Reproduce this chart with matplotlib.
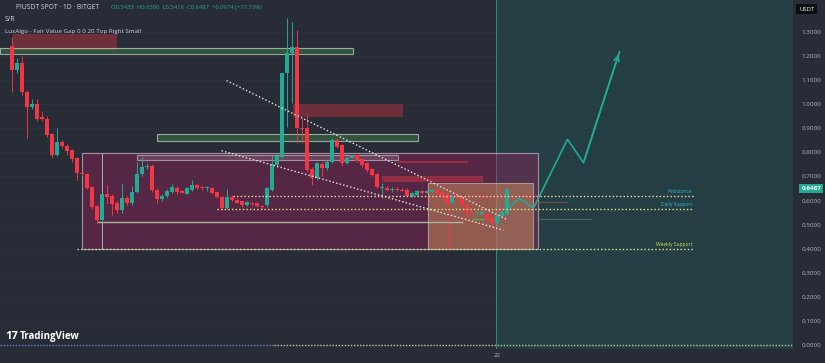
import matplotlib
matplotlib.use("Agg")
import matplotlib.pyplot as plt
from matplotlib.patches import Rectangle

plt.rcParams["font.family"] = ["Open Sans", "DejaVu Sans"]

# ---- candles (bar index 0..99) ----
opens = [1.24, 1.14, 1.17, 1.05, 0.99, 1.00, 0.945, 0.94, 0.875, 0.79,
         0.845, 0.826, 0.81, 0.775, 0.714, 0.709, 0.657, 0.577, 0.52, 0.627,
         0.62, 0.588, 0.561, 0.609, 0.588, 0.637, 0.710, 0.74, 0.743, 0.643,
         0.605, 0.617, 0.636, 0.652, 0.640, 0.629, 0.643, 0.666, 0.654, 0.652,
         0.652, 0.636, 0.615, 0.571, 0.615, 0.604, 0.597, 0.581, 0.587, 0.588,
         0.575, 0.58, 0.644, 0.748, 0.782, 1.128, 1.211, 1.239, 0.900, 0.900,
         0.729, 0.692, 0.751, 0.733, 0.761, 0.851, 0.830, 0.754, 0.778, 0.787,
         0.771, 0.754, 0.729, 0.712, 0.651, 0.651, 0.643, 0.646, 0.645, 0.644,
         0.619, 0.623, 0.640, 0.633, 0.637, 0.644, 0.637, 0.623, 0.592, 0.623,
         0.609, 0.581, 0.554, 0.547, 0.545, 0.545, 0.53, 0.505, 0.535, 0.5433]
highs = [1.28, 1.19, 1.20, 1.06, 1.02, 1.02, 0.97, 0.95, 0.88, 0.90,
         0.85, 0.835, 0.815, 0.78, 0.72, 0.715, 0.66, 0.58, 0.63, 0.664,
         0.625, 0.60, 0.669, 0.62, 0.66, 0.761, 0.782, 0.755, 0.75, 0.65,
         0.625, 0.648, 0.669, 0.66, 0.645, 0.657, 0.684, 0.67, 0.66, 0.66,
         0.655, 0.64, 0.62, 0.649, 0.622, 0.61, 0.60, 0.60, 0.593, 0.592,
         0.58, 0.655, 0.789, 0.797, 1.13, 1.36, 1.343, 1.308, 0.941, 0.955,
         0.74, 0.76, 0.76, 0.77, 0.86, 0.86, 0.835, 0.785, 0.79, 0.79,
         0.775, 0.76, 0.735, 0.715, 0.672, 0.66, 0.655, 0.655, 0.65, 0.65,
         0.635, 0.645, 0.645, 0.645, 0.648, 0.648, 0.64, 0.627, 0.625, 0.627,
         0.612, 0.585, 0.56, 0.555, 0.558, 0.55, 0.535, 0.54, 0.555, 0.6506]
lows = [1.05, 1.13, 1.04, 0.86, 0.98, 0.93, 0.93, 0.864, 0.775, 0.785,
        0.82, 0.79, 0.76, 0.685, 0.70, 0.648, 0.565, 0.505, 0.51, 0.59,
        0.54, 0.547, 0.547, 0.58, 0.58, 0.63, 0.70, 0.73, 0.635, 0.588,
        0.60, 0.61, 0.63, 0.625, 0.63, 0.625, 0.64, 0.648, 0.645, 0.64,
        0.628, 0.61, 0.56, 0.565, 0.60, 0.588, 0.575, 0.578, 0.578, 0.574,
        0.566, 0.575, 0.64, 0.74, 0.775, 0.907, 1.004, 0.837, 0.837, 0.720,
        0.665, 0.685, 0.70, 0.725, 0.755, 0.82, 0.745, 0.75, 0.775, 0.76,
        0.74, 0.72, 0.70, 0.65, 0.610, 0.64, 0.635, 0.64, 0.638, 0.615,
        0.615, 0.62, 0.628, 0.63, 0.635, 0.628, 0.615, 0.585, 0.585, 0.605,
        0.578, 0.526, 0.54, 0.54, 0.54, 0.515, 0.50, 0.50, 0.53, 0.5416]
closes = [1.14, 1.17, 1.05, 0.99, 1.00, 0.94, 0.94, 0.872, 0.79, 0.845,
          0.825, 0.806, 0.772, 0.716, 0.710, 0.653, 0.574, 0.519, 0.627, 0.616,
          0.585, 0.56, 0.609, 0.588, 0.637, 0.710, 0.740, 0.744, 0.643, 0.605,
          0.618, 0.640, 0.657, 0.636, 0.632, 0.650, 0.666, 0.652, 0.652, 0.654,
          0.632, 0.613, 0.567, 0.615, 0.602, 0.591, 0.581, 0.595, 0.585, 0.577,
          0.572, 0.651, 0.750, 0.786, 1.128, 1.211, 1.239, 0.900, 0.898, 0.727,
          0.692, 0.754, 0.733, 0.761, 0.851, 0.824, 0.754, 0.778, 0.787, 0.766,
          0.748, 0.727, 0.706, 0.657, 0.653, 0.644, 0.647, 0.645, 0.641, 0.619,
          0.630, 0.640, 0.630, 0.640, 0.643, 0.630, 0.619, 0.588, 0.612, 0.609,
          0.581, 0.547, 0.547, 0.549, 0.552, 0.518, 0.506, 0.535, 0.551, 0.6487]

# ---- drawings (x in bar index, y in price) ----
zones = [  # x0, x1, y0, y1, face, alpha, edge
    (0.2, 21.0, 1.225, 1.290, "#f23645", 0.35, "none"),
    (-2.4, 68.2, 1.207, 1.232, "#4caf50", 0.30, "#b8c4b8"),
    (56.2, 78.2, 0.948, 1.000, "#f23645", 0.35, "none"),
    (29.0, 81.2, 0.848, 0.875, "#4caf50", 0.30, "#b8c4b8"),
    (14.0, 105.2, 0.400, 0.798, "#a0205e", 0.38, "#b9a9b9"),
    (25.0, 77.2, 0.767, 0.789, "#9a8a90", 0.30, "#b9a9b9"),
    (77.2, 91.2, 0.757, 0.765, "#f23645", 0.45, "none"),
    (74.0, 94.2, 0.678, 0.702, "#f23645", 0.40, "none"),
    (83.2, 104.2, 0.400, 0.671, "#e39a5f", 0.45, "#b9a9a0"),
]
level_names = ["Resistance", "Daily Support", "Weekly Support"]
level_prices = [0.618, 0.565, 0.398]
level_starts = [44.2, 41.0, 13.0]
level_colors = ["#f3e0b0", "#e8e890", "#e0e890"]
label_colors = ["#2fb4c8", "#2fb4c8", "#d4e157"]
upper_trend = ([42.9, 98.9], [1.098, 0.522])
lower_trend = ([41.9, 98.3], [0.807, 0.477])
path_x = [99.3, 101.5, 104.3, 111.1, 114.3, 121.5]
path_y = [0.569, 0.609, 0.568, 0.854, 0.757, 1.218]
marker_bar = 96.8
price_ticks = [0.0, 0.1, 0.2, 0.3, 0.4, 0.5, 0.6, 0.7, 0.8, 0.9, 1.0, 1.1, 1.2, 1.3]
last_price = 0.6487

BG = "#282c37"
UP, DOWN = "#22ab94", "#f23645"

fig = plt.figure(figsize=(8.25, 3.63), dpi=100, facecolor=BG)
ax = fig.add_axes([0, 14 / 363, 793 / 825, 349 / 363], facecolor=BG)
ax.set_xlim(-2.4, 156.2)
ax.set_ylim(-0.0166, 1.4327)

for p in price_ticks:
    ax.axhline(p, color="#2f3340", lw=0.6, zorder=0)

# teal "future" area
ax.axvspan(marker_bar, 156.2, color="#1f6f68", alpha=0.28, lw=0, zorder=0.5)
ax.axvline(marker_bar, color="#2a8a80", lw=0.8, zorder=0.6)

for x0, x1, y0, y1, fc, a, ec in zones:
    ax.add_patch(Rectangle((x0, y0), x1 - x0, y1 - y0, facecolor=fc, alpha=a,
                           edgecolor="none", zorder=1))
    if ec != "none":
        ax.add_patch(Rectangle((x0, y0), x1 - x0, y1 - y0, facecolor="none",
                               edgecolor=ec, lw=0.8, alpha=0.8, zorder=1.1))

# misc thin drawing lines
ax.vlines(18, 0.400, 0.798, color="#b0b0b8", lw=0.7, zorder=1.2)
ax.vlines(87.4, 0.400, 0.620, color="#f23645", lw=0.7, alpha=0.8, zorder=1.2)
ax.hlines(0.512, 17, 90.2, color="#a9b89a", lw=1.0, zorder=1.2)
ax.hlines(0.620, 83.2, 105.5, color="#f23645", lw=1.0, alpha=0.5, zorder=1.2)
ax.hlines(0.523, 92, 95, color="#4caf50", lw=1.0, zorder=1.2)
ax.hlines(0.594, 105, 111.2, color="#a05050", lw=0.8, alpha=0.6, zorder=1.2)
ax.hlines(0.523, 105, 116, color="#7a8a8a", lw=0.8, alpha=0.5, zorder=1.2)

# candles
for i, (o, h, l, c) in enumerate(zip(opens, highs, lows, closes)):
    col = UP if c >= o else DOWN
    ax.vlines(i, l, h, color=col, lw=0.7, zorder=3)
    ax.bar(i, max(abs(c - o), 0.004), bottom=min(o, c), width=0.66,
           color=col, lw=0, zorder=3)

# levels
for name, p, x0, lc, tc in zip(level_names, level_prices, level_starts,
                               level_colors, label_colors):
    ax.hlines(p, x0, 136.2, color=lc, lw=1.0, linestyles=(0, (1, 1.6)), zorder=4)
    ax.text(136, p + 0.008, name, color=tc, fontsize=3.6, ha="right",
            va="bottom", zorder=5)
ax.hlines(0.0, -2.4, 52.4, color="#5b7fd0", lw=1.0, linestyles=(0, (1, 1.2)), zorder=4)
ax.hlines(0.0, 52.4, 156.2, color="#c8c890", lw=1.0, linestyles=(0, (1, 1.2)), zorder=4)

# falling channel
for xs, ys in (upper_trend, lower_trend):
    ax.plot(xs, ys, color="#e8e8e8", lw=1.0, ls=(0, (1, 1.6)), zorder=4)

# projection
ax.plot(path_x, path_y, color="#22ab94", lw=1.2, zorder=5)
ax.annotate("", xy=(path_x[-1], path_y[-1]), xytext=(path_x[-2], path_y[-2]),
            arrowprops=dict(arrowstyle="->", color="#22ab94", lw=1.2,
                            mutation_scale=9), zorder=5)

# axes styling
for s in ax.spines.values():
    s.set_visible(False)
ax.yaxis.tick_right()
ax.set_yticks(price_ticks)
ax.set_yticklabels([f"{p:.4f}" for p in price_ticks])
ax.tick_params(axis="y", length=0, pad=6, labelsize=4.5, labelcolor="#b2b5be")
ax.set_xticks([97])
ax.set_xticklabels(["22"])
ax.tick_params(axis="x", length=0, pad=3, labelsize=4.5, labelcolor="#b2b5be")

ax.annotate(f"{last_price:.4f}", xy=(1.0, last_price), xycoords=("axes fraction", "data"),
            xytext=(6, 0), textcoords="offset points", fontsize=4.5, color="white",
            fontweight="bold", va="center", ha="left",
            bbox=dict(boxstyle="square,pad=0.3", fc="#22ab94", ec="none"))
fig.text(0.978, 0.975, "USDT", fontsize=4.2, color="white", ha="center", va="center",
         bbox=dict(boxstyle="square,pad=0.5", fc="#0c0e14", ec="none"))

# header
fig.text(0.019, 0.978, "PIUSDT SPOT · 1D · BITGET", fontsize=4.9, color="#d1d4dc",
         va="center")
fig.text(0.134, 0.978, "O0.5433  H0.6506  L0.5416  C0.6487  +0.0974 (+17.73%)",
         fontsize=4.2, color="#22ab94", va="center")
fig.text(0.006, 0.945, "S/R", fontsize=5, color="#d1d4dc", va="center")
fig.text(0.006, 0.912, "LuxAlgo - Fair Value Gap 0 0 20 Top Right Small", fontsize=4.5,
         color="#d1d4dc", va="center")
fig.text(0.006, 0.072, "17", fontsize=8, color="white", fontweight="bold", va="center")
fig.text(0.024, 0.072, "TradingView", fontsize=7, color="white", fontweight="bold",
         va="center")

fig.savefig("out.png", dpi=100, facecolor=BG)
